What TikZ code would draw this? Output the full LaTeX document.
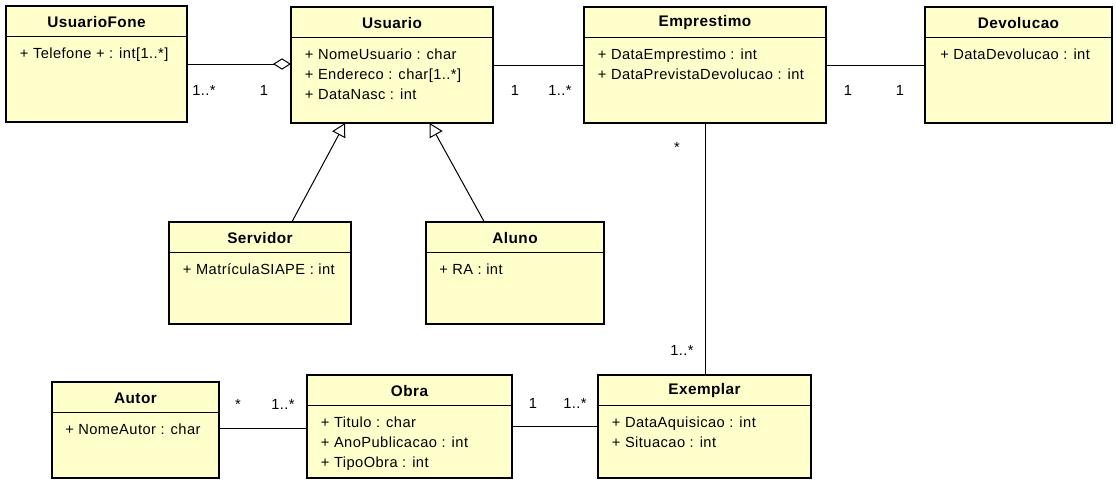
\documentclass[tikz,border=0pt]{standalone}
\usepackage{fontspec}
\setmainfont{Liberation Sans}
\newfontfamily\umlfont[LetterSpace=3]{Liberation Sans}
\usetikzlibrary{arrows.meta}
\definecolor{umlyellow}{RGB}{255,255,204}

\begin{document}
\begin{tikzpicture}[x=0.75pt,y=0.75pt,yscale=-1,xscale=1,
  classbox/.style={draw, line width=2pt, fill=umlyellow, anchor=north west, inner sep=0pt, outer sep=0pt},
  classname/.style={font=\umlfont\fontsize{11.5}{12}\selectfont\bfseries, inner sep=0.75pt},
  attrs/.style={anchor=north west, align=left, inner sep=0.75pt, font=\umlfont\fontsize{11}{15}\selectfont},
  mult/.style={inner sep=0.75pt, font=\umlfont\fontsize{11}{12}\selectfont},
  assoc/.style={line width=0.75pt},
  aggr/.style={line width=0.75pt, -{Diamond[open, fill=white, length=13.5pt, width=8.5pt, line width=0.75pt]}},
  gener/.style={line width=0.75pt, -{Triangle[open, fill=white, length=10pt, width=11pt, line width=0.75pt]}}
]
\useasboundingbox (0,0) rectangle (1116,486);

% Class: UsuarioFone
\node [classbox, minimum width=135.75pt, minimum height=87pt] (fone) at (6,6) {};
\draw (fone.north west) ++(0,30) -- ++(181,0);
\node [classname] (foneName) at ([yshift=12pt]fone.north) {UsuarioFone};
\node [attrs] (foneAttrs) at ([xshift=9.5pt, yshift=30.5pt]fone.north west) {+ Telefone + : int[1..*]};

% Class: Usuario
\node [classbox, minimum width=151.5pt, minimum height=87pt] (usuario) at (291,7) {};
\draw (usuario.north west) ++(0,30) -- ++(202,0);
\node [classname] (usuarioName) at ([yshift=12pt]usuario.north) {Usuario};
\node [attrs] (usuarioAttrs) at ([xshift=9.5pt, yshift=30.5pt]usuario.north west) {+ NomeUsuario : char\\+ Endereco : char[1..*]\\+ DataNasc : int};

% Class: Emprestimo
\node [classbox, minimum width=181.5pt, minimum height=87pt] (emprestimo) at (584,7) {};
\draw (emprestimo.north west) ++(0,30) -- ++(242,0);
\node [classname] (emprestimoName) at ([yshift=12pt]emprestimo.north) {Emprestimo};
\node [attrs] (emprestimoAttrs) at ([xshift=9.5pt, yshift=30.5pt]emprestimo.north west) {+ DataEmprestimo : int\\+ DataPrevistaDevolucao : int};

% Class: Devolucao
\node [classbox, minimum width=140.25pt, minimum height=87pt] (devolucao) at (925,7) {};
\draw (devolucao.north west) ++(0,30) -- ++(187,0);
\node [classname] (devolucaoName) at ([yshift=12pt]devolucao.north) {Devolucao};
\node [attrs] (devolucaoAttrs) at ([xshift=10.5pt, yshift=30.5pt]devolucao.north west) {+ DataDevolucao : int};

% Class: Servidor
\node [classbox, minimum width=136.5pt, minimum height=76.5pt] (servidor) at (169,222) {};
\draw (servidor.north west) ++(0,30) -- ++(182,0);
\node [classname] (servidorName) at ([yshift=12pt]servidor.north) {Servidor};
\node [attrs] (servidorAttrs) at ([xshift=9.5pt, yshift=30.5pt]servidor.north west) {+ MatrículaSIAPE : int};

% Class: Aluno
\node [classbox, minimum width=133.5pt, minimum height=76.5pt] (aluno) at (426,222) {};
\draw (aluno.north west) ++(0,30) -- ++(178,0);
\node [classname] (alunoName) at ([yshift=12pt]aluno.north) {Aluno};
\node [attrs] (alunoAttrs) at ([xshift=9pt, yshift=30.5pt]aluno.north west) {+ RA : int};

% Class: Autor
\node [classbox, minimum width=125.25pt, minimum height=72pt] (autor) at (52,382) {};
\draw (autor.north west) ++(0,30) -- ++(167,0);
\node [classname] (autorName) at ([yshift=12pt]autor.north) {Autor};
\node [attrs] (autorAttrs) at ([xshift=9pt, yshift=30.5pt]autor.north west) {+ NomeAutor : char};

% Class: Obra
\node [classbox, minimum width=153.75pt, minimum height=77.25pt] (obra) at (307,375) {};
\draw (obra.north west) ++(0,30) -- ++(205,0);
\node [classname] (obraName) at ([yshift=12pt]obra.north) {Obra};
\node [attrs] (obraAttrs) at ([xshift=9.5pt, yshift=30.5pt]obra.north west) {+ Titulo : char\\+ AnoPublicacao : int\\+ TipoObra : int};

% Class: Exemplar
\node [classbox, minimum width=159.75pt, minimum height=77.25pt] (exemplar) at (598,375) {};
\draw (exemplar.north west) ++(0,30) -- ++(213,0);
\node [classname] (exemplarName) at ([yshift=12pt]exemplar.north) {Exemplar};
\node [attrs] (exemplarAttrs) at ([xshift=9.5pt, yshift=30.5pt]exemplar.north west) {+ DataAquisicao : int\\+ Situacao : int};

% Aggregation UsuarioFone - Usuario
\draw [aggr] (fone.east) -- (fone.east -| usuario.west);
% Associations
\draw [assoc] (usuario.east) -- (usuario.east -| emprestimo.west);
\draw [assoc] (emprestimo.east) -- (emprestimo.east -| devolucao.west);
\draw [assoc] (emprestimo.south) -- (emprestimo.south |- exemplar.north);
\draw [assoc] (autor.east) ++(0,-1.5) coordinate (autorR) -- (autorR -| obra.west);
\draw [assoc] (obra.east) -- (obra.east -| exemplar.west);
% Generalizations
\draw [gener] (servidor.58.7) -- (usuario.231.6);
\draw [gener] (aluno.121.3) -- (usuario.303.9);

% Multiplicities
\node [mult] (m1) at (204,90) {1..*};
\node [mult] (m2) at (264,90) {1};
\node [mult] (m3) at (515,90) {1};
\node [mult] (m4) at (560,90) {1..*};
\node [mult] (m5) at (848,90) {1};
\node [mult] (m6) at (900,90) {1};
\node [mult] (m7) at (677,147) {*};
\node [mult] (m8) at (682,350) {1..*};
\node [mult] (m9) at (238,404) {*};
\node [mult] (m10) at (283,404) {1..*};
\node [mult] (m11) at (533,403) {1};
\node [mult] (m12) at (575,403) {1..*};

\end{tikzpicture}
\end{document}
